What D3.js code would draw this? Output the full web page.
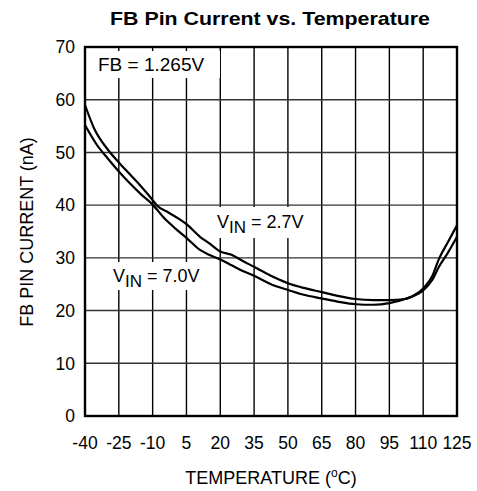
<!DOCTYPE html>
<html><head><meta charset="utf-8">
<script src="https://cdn.jsdelivr.net/npm/d3@7"></script>
<style>
body{margin:0;background:#fff;}
text{font-family:"Liberation Sans",Arial,sans-serif;fill:#000;}
</style></head>
<body>
<svg id="chart" width="477" height="491"></svg>
<script>
const xTicks = [-40,-25,-10,5,20,35,50,65,80,95,110,125];
const yTicks = [0,10,20,30,40,50,60,70];

const tempVin27 = [-40,-36,-30,-25,-20,-15,-11,-8,-3,2,5,11,15,20,25,30,35,42,50,57,65,72,80,88,95,102,106,110,114,117,121,125];
const curVin27  = [59,54.6,50.6,48.1,45.8,43.5,41.5,39.9,38.6,37.3,36.4,34,32.8,31.2,30.6,29.4,28.3,26.7,25.2,24.3,23.5,22.8,22.2,22.0,22.0,22.2,22.8,23.8,25.8,28.3,31,34];

const tempVin70 = [-40,-35,-30,-25,-20,-15,-10,-5,0,5,11,15,20,25,30,35,42,50,57,65,72,80,88,95,102,106,110,114,117,121,125];
const curVin70  = [55.2,51.6,48.9,46.4,44.1,42.0,40.1,37.6,35.6,33.8,31.5,30.6,29.7,28.6,27.5,26.6,25.1,23.9,23.0,22.3,21.7,21.2,21.1,21.4,22.2,22.9,24.2,26.5,29.8,33,36.2];

const svg = d3.select("#chart");
const L=85, R=457, T=47, B=416;
const x = d3.scaleLinear().domain([-40,125]).range([L,R]);
const y = d3.scaleLinear().domain([0,70]).range([B,T]);

// grid
svg.append("g").selectAll("line").data(xTicks.slice(1,-1)).join("line")
  .attr("x1",d=>x(d)).attr("x2",d=>x(d)).attr("y1",T).attr("y2",B)
  .attr("stroke","#000").attr("stroke-width",1.4);
svg.append("g").selectAll("line").data(yTicks.slice(1,-1)).join("line")
  .attr("x1",L).attr("x2",R).attr("y1",d=>y(d)).attr("y2",d=>y(d))
  .attr("stroke","#333").attr("stroke-width",1.4);

// label backgrounds
function bg(x0,y0,w,h){svg.append("rect").attr("x",x0).attr("y",y0).attr("width",w).attr("height",h).attr("fill","#fff");}
bg(92,51,128,27);
bg(210,207,103,31);
bg(107,262,100,28);

// curves
const line = d3.line().x(d=>x(d[0])).y(d=>y(d[1])).curve(d3.curveMonotoneX);
[[tempVin27,curVin27],[tempVin70,curVin70]].forEach(([t,c])=>{
  svg.append("path").datum(t.map((v,i)=>[v,c[i]])).attr("d",line)
    .attr("fill","none").attr("stroke","#000").attr("stroke-width",2.2).attr("stroke-linejoin","round");
});

// frame
svg.append("rect").attr("x",L).attr("y",T).attr("width",R-L).attr("height",B-T)
  .attr("fill","none").attr("stroke","#000").attr("stroke-width",2.4);

// tick labels
svg.append("g").selectAll("text").data(yTicks).join("text")
  .attr("x",L-10).attr("y",d=>y(d)).attr("dy","0.36em").attr("text-anchor","end")
  .attr("font-size",17.5).text(d=>d);
svg.append("g").selectAll("text").data(xTicks).join("text")
  .attr("x",d=>x(d)).attr("y",443).attr("dy","0.36em").attr("text-anchor","middle")
  .attr("font-size",17.5).text(d=>d);

// title
svg.append("text").attr("x",270).attr("y",24.5).attr("text-anchor","middle")
  .attr("font-size",19).attr("font-weight","bold")
  .attr("textLength",320).attr("lengthAdjust","spacingAndGlyphs")
  .text("FB Pin Current vs. Temperature");

// axis titles
const xt = svg.append("text").attr("x",271).attr("y",484).attr("text-anchor","middle").attr("font-size",18);
xt.append("tspan").text("TEMPERATURE (");
xt.append("tspan").attr("font-size",12).attr("dy",-7).text("o");
xt.append("tspan").attr("dy",7).text("C)");
svg.append("text").attr("transform","translate(33,232) rotate(-90)").attr("text-anchor","middle")
  .attr("font-size",18).text("FB PIN CURRENT (nA)");

// annotations
svg.append("text").attr("x",98).attr("y",71).attr("font-size",19).text("FB = 1.265V");
function vin(x0,y0,val){
  const t = svg.append("text").attr("x",x0).attr("y",y0).attr("font-size",18);
  t.append("tspan").text("V");
  t.append("tspan").attr("dy",5).attr("font-size",17).text("IN");
  t.append("tspan").attr("dy",-5).text(" = "+val);
}
vin(217,228,"2.7V");
vin(113,282,"7.0V");
</script>
</body></html>
